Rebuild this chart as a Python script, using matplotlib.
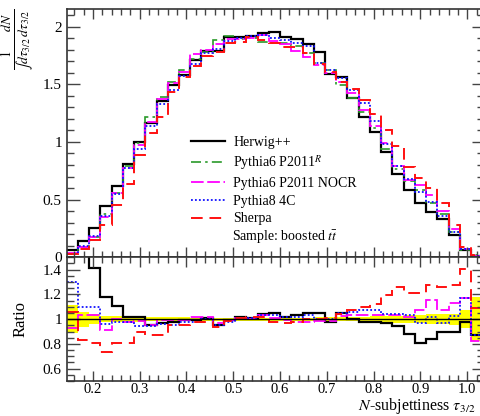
import matplotlib
matplotlib.use("Agg")
import matplotlib.pyplot as plt
from matplotlib.ticker import MultipleLocator, FuncFormatter
import numpy as np

plt.rcParams["font.family"] = ["Liberation Serif", "DejaVu Serif"]
plt.rcParams["mathtext.fontset"] = "stix"

# bin edges of tau_3/2 histogram
EDGES = [0.144, 0.168, 0.192, 0.216, 0.240, 0.264, 0.288, 0.312, 0.336, 0.360,
         0.384, 0.408, 0.432, 0.456, 0.480, 0.504, 0.528, 0.552, 0.576, 0.600,
         0.624, 0.648, 0.672, 0.696, 0.720, 0.744, 0.768, 0.792, 0.816, 0.840,
         0.864, 0.888, 0.912, 0.936, 0.960, 0.984, 1.008, 1.032]

LABELS = ["Herwig++", "Pythia6 P2011$^R$", "Pythia6 P2011 NOCR", "Pythia8 4C", "Sherpa"]

herwig = [0.06, 0.145, 0.251, 0.448, 0.618, 0.809, 1.004, 1.164, 1.357, 1.49,
          1.58, 1.71, 1.79, 1.79, 1.912, 1.912, 1.92, 1.943, 1.957, 1.906,
          1.89, 1.848, 1.777, 1.59, 1.562, 1.378, 1.22, 1.09, 0.915, 0.724,
          0.58, 0.471, 0.393, 0.335, 0.195, 0.062, 0.014]
py6_r = [0.03, 0.088, 0.178, 0.378, 0.555, 0.79, 0.99, 1.218, 1.39, 1.52,
         1.62, 1.722, 1.778, 1.885, 1.92, 1.895, 1.905, 1.87, 1.86, 1.855,
         1.835, 1.775, 1.685, 1.622, 1.49, 1.378, 1.26, 1.12, 0.94, 0.765,
         0.66, 0.583, 0.468, 0.372, 0.215, 0.064, 0.016]
py6_nocr = [0.038, 0.09, 0.177, 0.35, 0.557, 0.77, 0.975, 1.169, 1.375, 1.51,
            1.61, 1.764, 1.795, 1.85, 1.89, 1.89, 1.9, 1.928, 1.879, 1.85,
            1.79, 1.74, 1.668, 1.597, 1.524, 1.423, 1.28, 1.14, 0.99, 0.795,
            0.67, 0.627, 0.54, 0.4, 0.245, 0.074, 0.013]
py8_4c = [0.03, 0.095, 0.188, 0.361, 0.545, 0.77, 0.94, 1.14, 1.33, 1.452,
          1.575, 1.674, 1.775, 1.807, 1.879, 1.9, 1.92, 1.925, 1.9, 1.885,
          1.862, 1.835, 1.683, 1.625, 1.553, 1.452, 1.337, 1.185, 0.98, 0.795,
          0.68, 0.565, 0.477, 0.36, 0.222, 0.074, 0.014]
sherpa = [0.03, 0.073, 0.153, 0.283, 0.456, 0.636, 0.889, 1.077, 1.215, 1.437,
          1.562, 1.662, 1.749, 1.784, 1.862, 1.87, 1.908, 1.885, 1.858, 1.827,
          1.82, 1.77, 1.677, 1.61, 1.524, 1.458, 1.365, 1.24, 1.106, 0.968,
          0.785, 0.685, 0.601, 0.471, 0.276, 0.088, 0.022]

# ratio panel (reference = Pythia6 P2011^R)
ratio_herwig = [2.0, 1.65, 1.41, 1.18, 1.11, 1.02, 1.016, 0.954, 0.968, 0.973,
                0.995, 0.995, 1.008, 0.954, 0.995, 1.02, 1.008, 1.043, 1.053, 1.02,
                1.03, 1.048, 1.053, 0.98, 1.048, 1.0, 0.98, 0.98, 0.968, 0.943,
                0.88, 0.808, 0.84, 0.9, 0.9, 0.98, 0.873]
ratio_nocr = [0.93, 1.035, 1.035, 0.91, 1.005, 0.98, 0.985, 0.955, 0.99, 0.99,
              0.99, 1.02, 1.015, 0.97, 0.995, 1.013, 1.0, 1.03, 1.01, 0.995,
              0.975, 0.975, 0.985, 0.985, 1.025, 1.035, 1.035, 1.035, 1.035, 1.035,
              1.015, 1.075, 1.155, 1.075, 1.13, 1.17, 0.82]
ratio_py8 = [1.30, 1.10, 1.10, 0.962, 0.98, 0.975, 0.948, 0.948, 0.96, 0.955,
             0.975, 0.975, 1.0, 0.955, 0.98, 1.01, 1.01, 1.03, 1.03, 1.02,
             1.02, 1.035, 1.0, 1.0, 1.05, 1.06, 1.075, 1.075, 1.04, 1.04,
             1.035, 0.968, 1.02, 0.968, 1.027, 1.17, 0.873]
ratio_sherpa = [1.056, 0.83, 0.806, 0.734, 0.81, 0.81, 0.895, 0.875, 0.875, 0.95,
                0.955, 0.973, 0.98, 0.94, 0.986, 1.013, 1.02, 1.015, 0.98, 0.968,
                0.975, 1.0, 1.0, 1.01, 1.04, 1.075, 1.10, 1.12, 1.196, 1.263,
                1.21, 1.21, 1.277, 1.258, 1.277, 1.405, 1.09]
ref_err = [0.115, 0.06, 0.04, 0.025, 0.025, 0.02, 0.02, 0.018, 0.016, 0.015,
           0.015, 0.013, 0.013, 0.012, 0.012, 0.012, 0.012, 0.012, 0.012, 0.012,
           0.013, 0.013, 0.014, 0.015, 0.016, 0.018, 0.02, 0.022, 0.025, 0.028,
           0.032, 0.035, 0.038, 0.04, 0.045, 0.075, 0.18]

STYLES = [
    dict(color="black", ls="-", lw=1.6),
    dict(color="#2a9a2a", ls=(0, (6, 2.5, 1.5, 2.5)), lw=1.2),
    dict(color="#ff00ff", ls=(0, (7, 2)), lw=1.3),
    dict(color="#1010ff", ls=(0, (1, 1.2)), lw=1.3),
    dict(color="#ff1010", ls=(0, (6, 3.5)), lw=1.4),
]

fig = plt.figure(figsize=(4.81, 4.16), dpi=100)
ax = fig.add_axes([0.1387, 0.3815, 0.8677, 0.5969])
axr = fig.add_axes([0.1387, 0.0841, 0.8677, 0.2974], sharex=ax)

edges = np.array(EDGES)
series = [herwig, py6_r, py6_nocr, py8_4c, sherpa]
for vals, st, lab in zip(series, STYLES, LABELS):
    ax.stairs(vals, edges, label=lab, baseline=None, **st)

# ratio panel
err = np.array(ref_err)
axr.stairs(1 + err, edges, baseline=1 - err, fill=True, color="#ffff00", lw=0)
axr.axhline(1.0, color="black", lw=1.0)
ratios = [ratio_herwig, ratio_nocr, ratio_py8, ratio_sherpa]
for vals, st in zip(ratios, [STYLES[0], STYLES[2], STYLES[3], STYLES[4]]):
    axr.stairs(vals, edges, baseline=None, **st)

ax.set_xlim(0.144, 1.036)
ax.set_ylim(0, 2.153)
axr.set_ylim(0.5, 1.5)

for a in (ax, axr):
    a.xaxis.set_major_locator(MultipleLocator(0.1))
    a.xaxis.set_minor_locator(MultipleLocator(0.02))
    a.tick_params(which="both", direction="in", top=True, right=True,
                  color="#444444", labelsize=11)
    a.tick_params(axis="x", which="major", length=7, width=1)
    a.tick_params(axis="x", which="minor", length=4, width=1)
    a.tick_params(axis="y", which="major", length=9, width=1)
    a.tick_params(axis="y", which="minor", length=5, width=1)
    for sp in a.spines.values():
        sp.set_linewidth(1.2)
        sp.set_color("#333333")

ax.yaxis.set_major_locator(MultipleLocator(0.5))
ax.yaxis.set_minor_locator(MultipleLocator(0.1))
ax.yaxis.set_major_formatter(FuncFormatter(lambda v, p: f"{v:g}"))
ax.tick_params(axis="x", labelbottom=False)

axr.yaxis.set_major_locator(MultipleLocator(0.2))
axr.yaxis.set_minor_locator(MultipleLocator(0.05))
axr.yaxis.set_major_formatter(FuncFormatter(
    lambda v, p: f"{v:g}" if 0.55 < v < 1.45 else ""))
axr.xaxis.set_major_formatter(FuncFormatter(lambda v, p: f"{v:.1f}"))
axr.tick_params(axis="x", pad=1.5, labelsize=10.5)

leg = ax.legend(loc="upper left", bbox_to_anchor=(0.297, 0.49), frameon=False,
                fontsize=10, handlelength=2.5, handletextpad=0.55,
                labelspacing=0.33, borderaxespad=0, borderpad=0)
ax.text(0.396, 0.082, r"Sample: boosted $t\bar{t}$", transform=ax.transAxes,
        fontsize=10, va="center", ha="left")

fig.text(0.037, 0.978, r"$\frac{1}{\int d\tau_{3/2}}\frac{dN}{d\tau_{3/2}}$",
         rotation=90, ha="center", va="top", fontsize=14)
fig.text(0.042, 0.232, "Ratio", rotation=90, ha="center", va="center", fontsize=12)
fig.text(0.745, 0.0, r"$N$-subjettiness $\tau_{3/2}$", ha="left", va="bottom",
         fontsize=11.5)

fig.savefig("out.png", dpi=100)
